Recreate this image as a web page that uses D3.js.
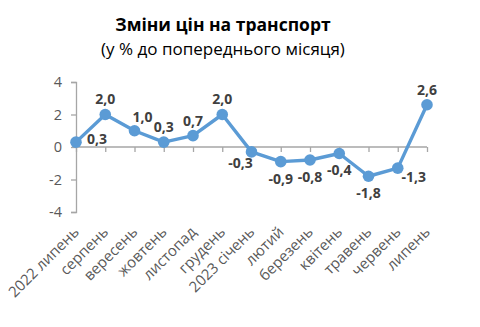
<!DOCTYPE html>
<html><head><meta charset="utf-8">
<script src="https://cdn.jsdelivr.net/npm/d3@7"></script>
<style>body{margin:0;background:#fff}svg{display:block}</style>
</head><body>
<script>
const categories = ["2022 липень","серпень","вересень","жовтень","листопад","грудень","2023 січень","лютий","березень","квітень","травень","червень","липень"];
const values = [0.3, 2.0, 1.0, 0.3, 0.7, 2.0, -0.3, -0.9, -0.8, -0.4, -1.8, -1.3, 2.6];
const yTicks = [-4, -2, 0, 2, 4];
const labelSide = ["right","above","aboveRight","above","above","above","leftBelow","below","below","below","below","rightBelow","above"];
const title = "Зміни цін на транспорт";
const subtitle = "(у % до попереднього місяця)";

const W = 480, H = 327;
const font = "'Open Sans', sans-serif";
const svg = d3.select("body").append("svg").attr("width", W).attr("height", H);

const x = d3.scalePoint().domain(categories).range([76, 427]);
const y = d3.scaleLinear().domain([-4, 4]).range([212, 82]);

svg.append("text").attr("x", 223).attr("y", 31).attr("text-anchor", "middle")
  .attr("font-family", font).attr("font-weight", "bold").attr("font-size", 17.5).attr("fill", "#000").text(title);
svg.append("text").attr("x", 223).attr("y", 55).attr("text-anchor", "middle")
  .attr("font-family", font).attr("font-size", 17).attr("fill", "#000").text(subtitle);

// y axis
const yAxis = svg.append("g").attr("transform", "translate(76,0)")
  .call(d3.axisLeft(y).tickValues(yTicks).tickSize(5).tickPadding(9).tickFormat(d => d));
yAxis.select(".domain").attr("stroke", "#a6a6a6").attr("stroke-width", 1.3);
yAxis.selectAll(".tick line").attr("stroke", "#a6a6a6").attr("stroke-width", 1.3);
yAxis.selectAll(".tick text").attr("font-family", font).attr("font-size", 14.5).attr("fill", "#595959");

// x axis at zero
const xAxis = svg.append("g").attr("transform", `translate(0,${y(0)})`)
  .call(d3.axisBottom(x).tickSize(5).tickFormat(""));
xAxis.select(".domain").attr("stroke", "#a6a6a6").attr("stroke-width", 1.3).attr("d", `M76,0H427`);
xAxis.selectAll(".tick line").attr("stroke", "#a6a6a6").attr("stroke-width", 1.3);

// x labels at bottom
svg.append("g").selectAll("text").data(categories).join("text")
  .attr("transform", d => `translate(${x(d) + 4},${y(-4) + 21}) rotate(-45)`)
  .attr("text-anchor", "end")
  .attr("font-family", font).attr("font-size", 15).attr("fill", "#595959")
  .text(d => d);

// line
const data = categories.map((c, i) => ({c, v: values[i], s: labelSide[i]}));
svg.append("path").datum(data)
  .attr("d", d3.line().x(d => x(d.c)).y(d => y(d.v)))
  .attr("fill", "none").attr("stroke", "#5b9bd5").attr("stroke-width", 3.4).attr("stroke-linejoin", "round");
svg.append("g").selectAll("circle").data(data).join("circle")
  .attr("cx", d => x(d.c)).attr("cy", d => y(d.v)).attr("r", 5.8).attr("fill", "#5b9bd5");

const fmt = v => v.toFixed(1).replace(".", ",");
const off = {
  right: [21, -3], above: [0, -15], aboveRight: [8, -14], below: [0, 17], leftBelow: [-11, 11], rightBelow: [16, 9]
};
svg.append("g").selectAll("text").data(data).join("text")
  .attr("x", d => x(d.c) + off[d.s][0]).attr("y", d => y(d.v) + off[d.s][1])
  .attr("dy", "0.35em").attr("text-anchor", "middle")
  .attr("font-family", font).attr("font-weight", "bold").attr("font-size", 14).attr("fill", "#404040")
  .text(d => fmt(d.v));
</script>
</body></html>
